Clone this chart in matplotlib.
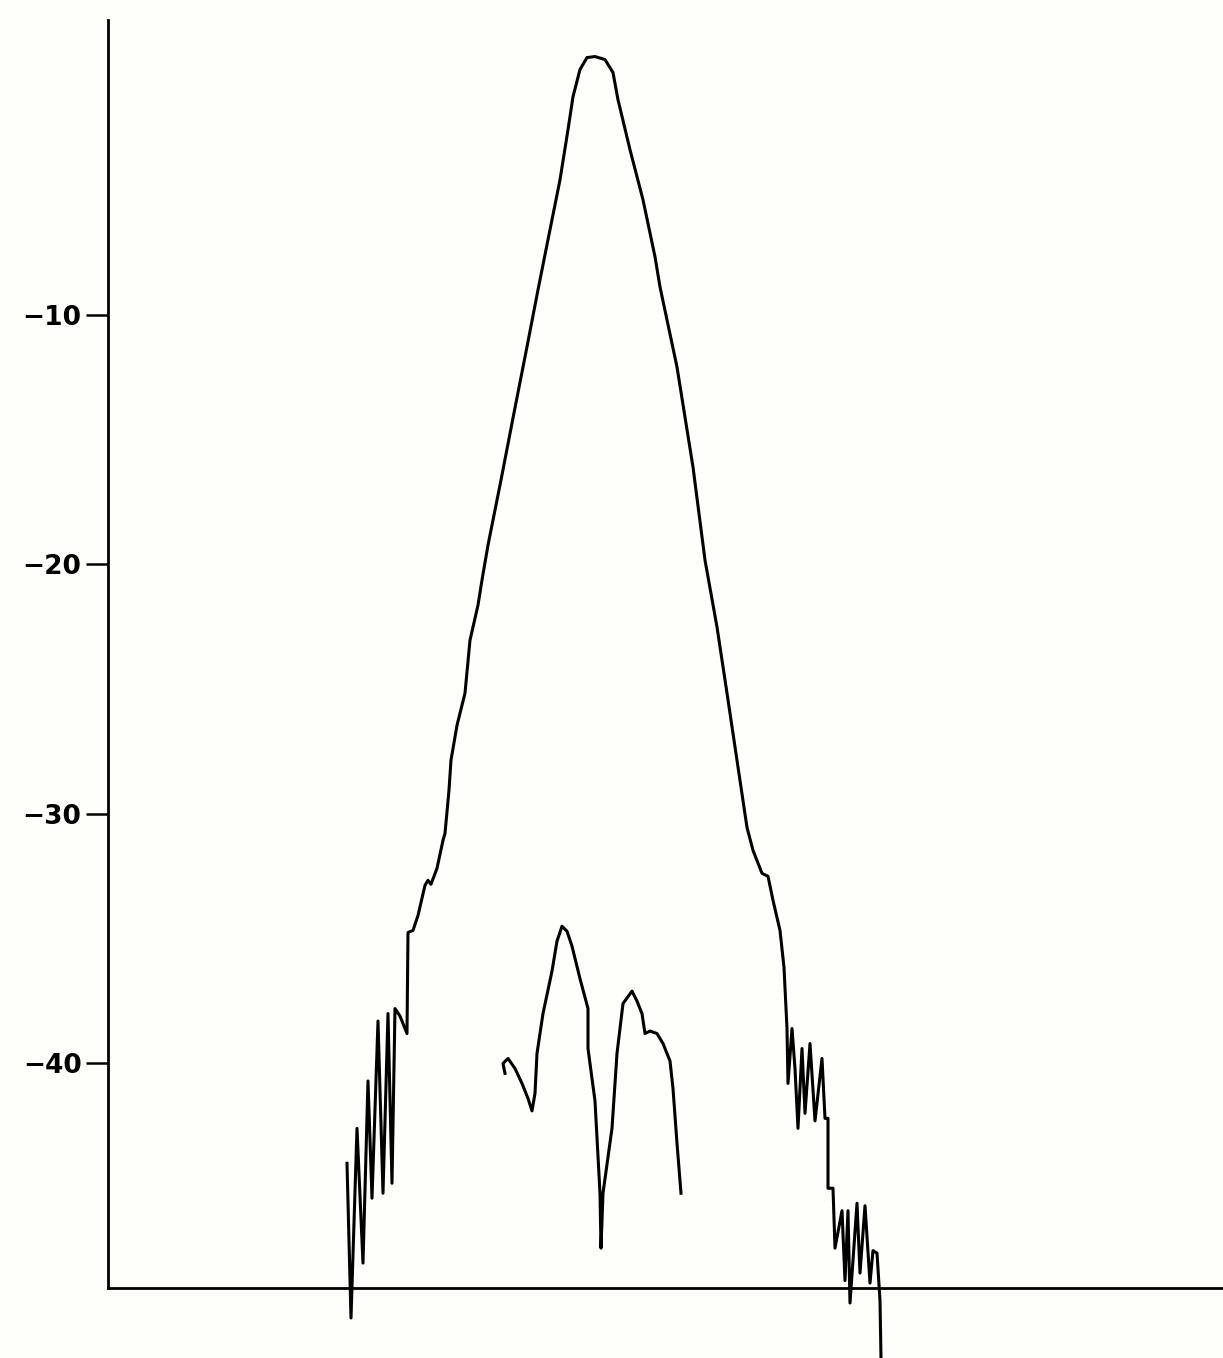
import matplotlib
matplotlib.use('Agg')
from matplotlib import pyplot as plt

# Main response curve (x in arbitrary bins, level in dB)
main_x = [239, 243, 249, 255, 260, 264, 270, 275, 280, 284, 287, 292, 299,
          300, 305, 310, 317, 320, 323, 329, 335, 337, 341, 343, 349, 357, 362,
          370, 374, 380, 393, 406, 419, 430, 440, 452, 460, 465, 472, 479, 487,
          497, 505, 510, 522, 535, 547, 552, 569, 585, 597, 609, 619, 629, 639,
          645, 654, 660, 665, 672, 676,
          679, 680, 684, 687, 690, 694, 697, 702, 707, 714, 717, 720, 720, 725,
          727, 734, 737, 740, 742, 749, 752, 757, 762, 765, 769, 772, 773]
main_db = [-44.0, -50.2, -42.6, -48.0, -40.7, -45.4, -38.3, -45.2, -38.0, -44.8,
           -37.8, -38.1, -38.8,
           -34.75, -34.67, -34.07, -32.86, -32.66, -32.82, -32.18, -31.06, -30.78,
           -29.05, -27.85, -26.45, -25.16, -23.04, -21.63, -20.63, -19.23, -16.62,
           -13.93, -11.28, -9.0, -6.99, -4.59, -2.58, -1.26, -0.17, 0.31, 0.35,
           0.23, -0.29, -1.38, -3.38, -5.39, -7.67, -8.88, -12.09, -16.10, -19.83,
           -22.51, -25.16, -27.85, -30.54, -31.46, -32.38, -32.50, -33.46, -34.67,
           -36.15,
           -38.6, -40.8, -38.6, -40.2, -42.6, -39.4, -42.0, -39.2, -42.3, -39.8,
           -42.2, -42.2, -45.0, -45.0, -47.4, -45.9, -48.7, -45.9, -49.6, -45.6,
           -48.4, -45.7, -48.8, -47.5, -47.6, -49.5, -51.8]

# Secondary (lower) curve
sec_x = [397, 395, 400, 407, 414, 420, 424, 427, 429, 435, 444, 449, 454, 459, 464,
         472, 480, 480, 487, 492, 493, 495, 504, 509, 515, 524, 529, 534, 537, 542,
         549, 555, 562, 565, 569, 573]
sec_db = [-40.4, -40.0, -39.8, -40.2, -40.8, -41.4, -41.9, -41.2, -39.6, -38.0, -36.3,
          -35.1, -34.5, -34.7, -35.3, -36.6, -37.8, -39.4, -41.5, -45.2, -47.4, -45.2,
          -42.6, -39.6, -37.6, -37.1, -37.5, -38.0, -38.8, -38.7, -38.8, -39.2, -39.9,
          -41.0, -43.2, -45.2]

yticks = [-10, -20, -30, -40]
ytick_labels = ['\u221210', '\u221220', '\u221230', '\u221240']

bg = '#fefefb'
fig = plt.figure(figsize=(12.23, 13.58), dpi=100, facecolor=bg)
ax = fig.add_axes([0.0883, 0.0515, 0.9117, 0.9335])
ax.set_facecolor(bg)

ax.plot(main_x, main_db, color='black', lw=2.2, clip_on=False, solid_joinstyle='round')
ax.plot(sec_x, sec_db, color='black', lw=2.2, clip_on=False, solid_joinstyle='round')

ax.set_xlim(0, 1115)
ax.set_ylim(-49, 1.8)

ax.spines['top'].set_visible(False)
ax.spines['right'].set_visible(False)
ax.spines['left'].set_linewidth(2.0)
ax.spines['bottom'].set_linewidth(2.0)

ax.set_xticks([])
ax.set_yticks(yticks)
ax.set_yticklabels(ytick_labels, fontsize=19, fontweight='bold')
ax.tick_params(axis='y', direction='out', length=16, width=1.8, pad=3)

fig.savefig('out.png', dpi=100, facecolor=bg)
